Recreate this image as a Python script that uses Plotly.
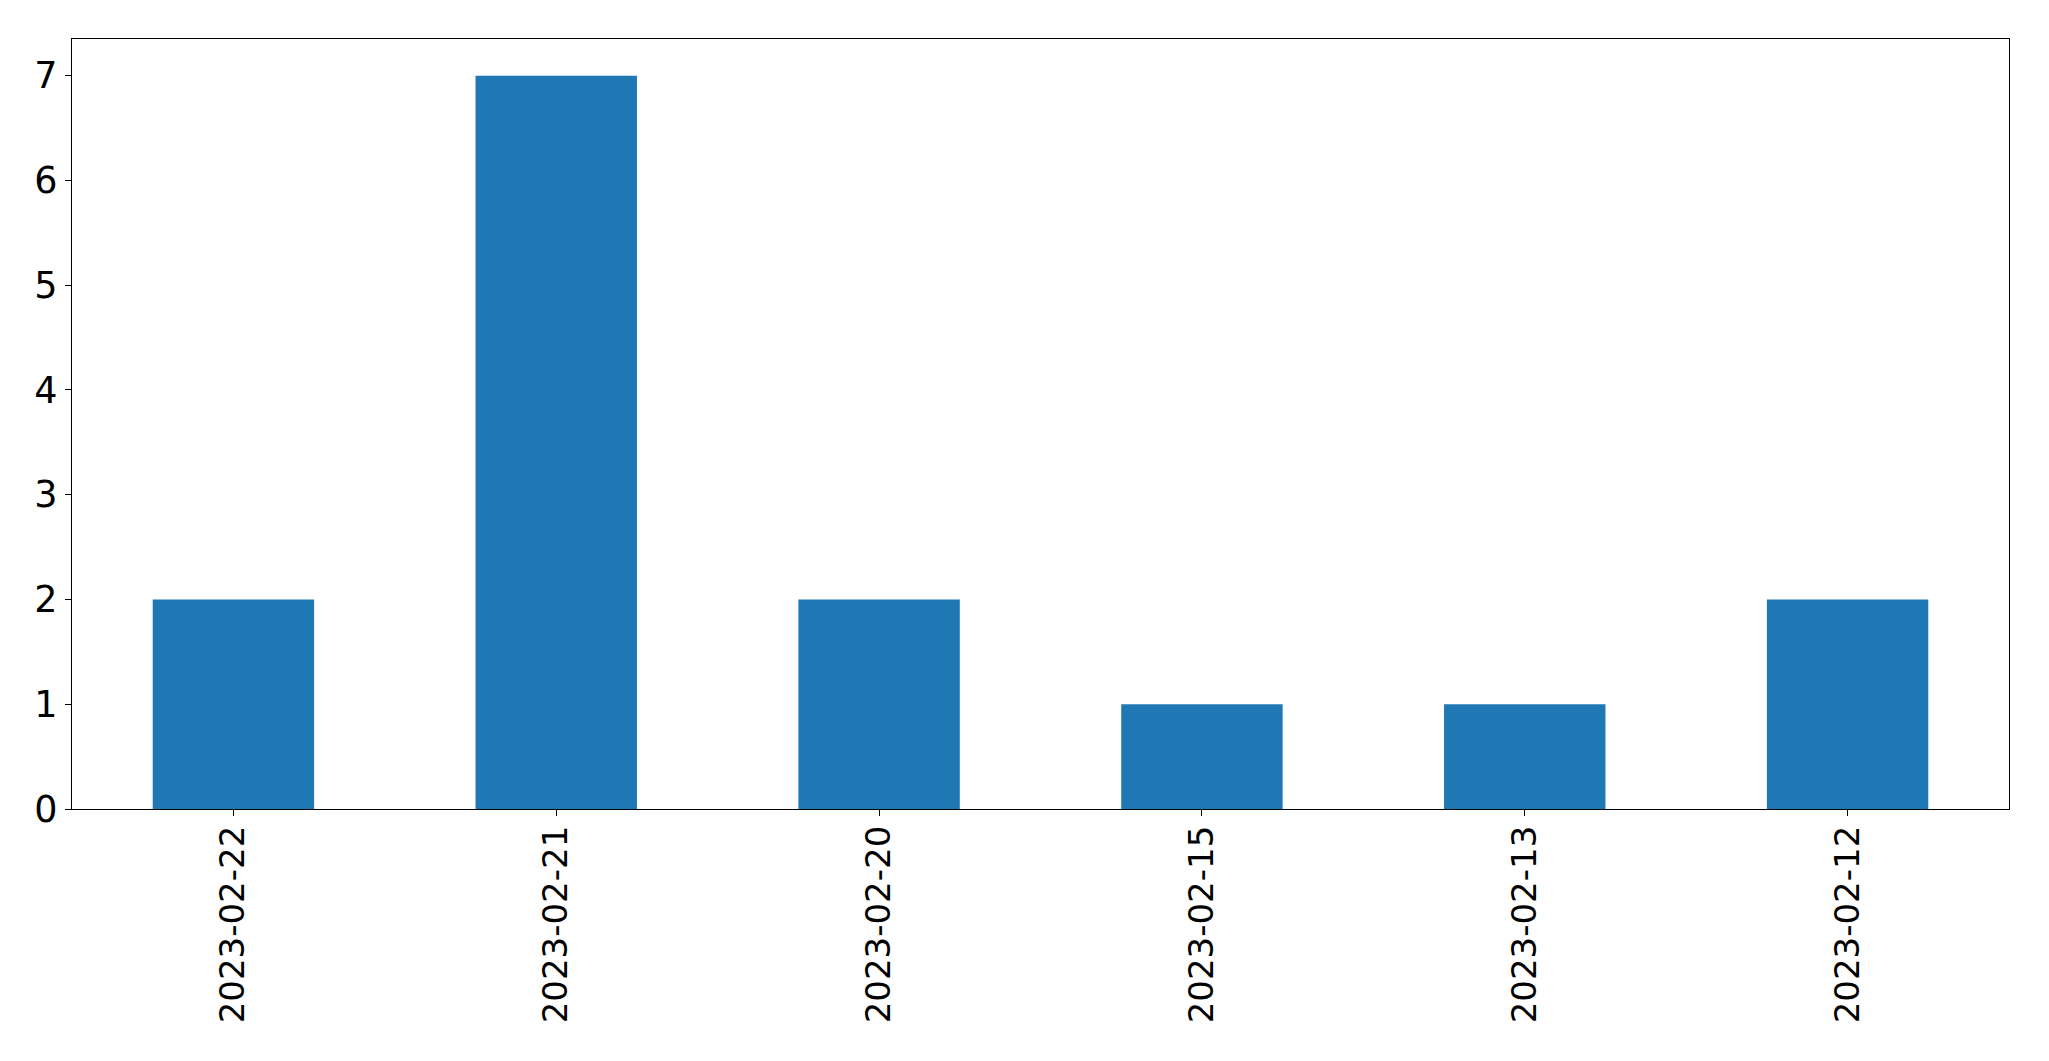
import plotly.graph_objects as go

dates = ["2023-02-22", "2023-02-21", "2023-02-20", "2023-02-15", "2023-02-13", "2023-02-12"]
counts = [2, 7, 2, 1, 1, 2]
y_ticks = [0, 1, 2, 3, 4, 5, 6, 7]

fig = go.Figure(go.Bar(x=dates, y=counts, width=0.5, marker=dict(color="#1f77b4", line=dict(width=0))))

xfont = dict(family="DejaVu Sans", size=34, color="black")
yfont = dict(family="DejaVu Sans", size=36.5, color="black")
fig.update_layout(
    width=2041, height=1053,
    margin=dict(l=64, r=40, t=31, b=252, autoexpand=False),
    paper_bgcolor="white", plot_bgcolor="white",
    showlegend=False,
    font=xfont,
)
fig.update_xaxes(
    type="category", range=[-0.5, 5.5],
    showline=True, mirror=True, linecolor="black", linewidth=1.3,
    ticks="outside", ticklen=6, tickwidth=1.3, tickcolor="black",
    tickangle=-90, tickfont=xfont, showgrid=False, zeroline=False,
    ticklabelstandoff=-4, automargin=False,
)
fig.update_yaxes(
    range=[0, 7.35], tickvals=y_ticks,
    showline=True, mirror=True, linecolor="black", linewidth=1.3,
    ticks="outside", ticklen=6, tickwidth=1.3, tickcolor="black",
    tickfont=yfont, showgrid=False, zeroline=False,
    automargin=False,
)
fig.write_html("out.html")
